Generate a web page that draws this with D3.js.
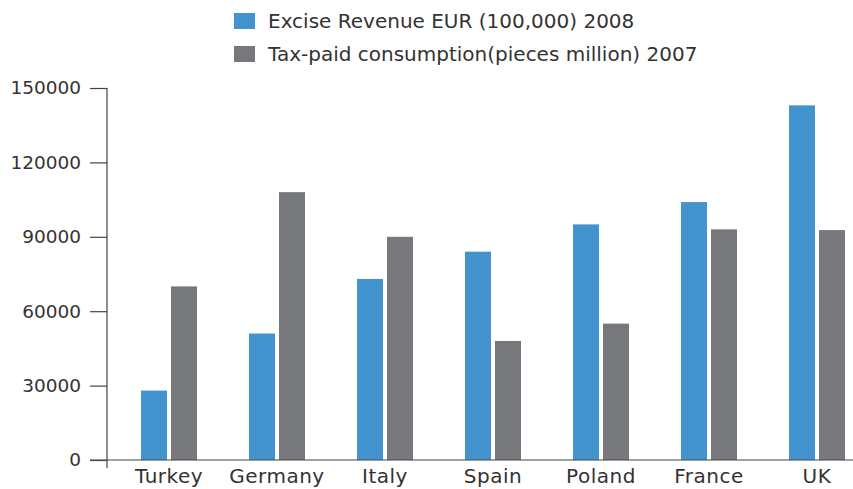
<!DOCTYPE html>
<html><head><meta charset="utf-8">
<script src="https://cdn.jsdelivr.net/npm/d3@7"></script>
<style>body{margin:0;background:#fff}</style>
</head><body><svg id="c" width="853" height="489"></svg>
<script>
const categories = ["Turkey","Germany","Italy","Spain","Poland","France","UK"];
const excise = [28000,51000,73000,84000,95000,104000,143000];
const consumption = [70000,108000,90000,48000,55000,93000,92700];
const yTicks = [0,30000,60000,90000,120000,150000];
const seriesNames = ["Excise Revenue EUR (100,000) 2008","Tax-paid consumption(pieces million) 2007"];
const colors = ["#4393cf","#77787b"];

const svg = d3.select("#c");
const font = "'DejaVu Sans', sans-serif";
const x0 = 107, yBase = 460, yTop = 88;
const x = d3.scaleBand().domain(categories).range([x0+8, x0+8+108*7]).paddingInner(0).paddingOuter(0);
const y = d3.scaleLinear().domain([0,150000]).range([yBase, yTop]);
const bw = 26, gap = 4;

const g = svg.append("g");
categories.forEach((c,i)=>{
  const cx = x(c) + x.bandwidth()/2;
  g.append("rect").attr("x", cx - gap/2 - bw).attr("y", y(excise[i])).attr("width", bw).attr("height", yBase - y(excise[i])).attr("fill", colors[0]);
  g.append("rect").attr("x", cx + gap/2).attr("y", y(consumption[i])).attr("width", bw).attr("height", yBase - y(consumption[i])).attr("fill", colors[1]);
  g.append("text").attr("x", cx).attr("y", 483).attr("text-anchor","middle").attr("font-family",font).attr("font-size",20).attr("letter-spacing",0.5).attr("fill","#333").text(c);
});

// y axis
const yAxis = d3.axisLeft(y).tickValues(yTicks).tickSize(17).tickPadding(9).tickFormat(d3.format("d"));
const ya = svg.append("g").attr("transform",`translate(${x0},0)`).call(yAxis);
ya.select(".domain").remove();
ya.selectAll(".tick line").attr("stroke","#444").attr("stroke-width",1.2);
ya.selectAll(".tick text").attr("font-family",font).attr("font-size",18.5).attr("fill","#333");
svg.append("line").attr("x1",x0).attr("x2",x0).attr("y1",yTop).attr("y2",yBase+8).attr("stroke","#444").attr("stroke-width",1.2);
svg.append("line").attr("x1",x0-17).attr("x2",853).attr("y1",yBase).attr("y2",yBase).attr("stroke","#444").attr("stroke-width",1.2);

// legend
seriesNames.forEach((s,i)=>{
  const ly = 13 + i*33;
  svg.append("rect").attr("x",234).attr("y",ly).attr("width",21).attr("height",16).attr("fill",colors[i]);
  svg.append("text").attr("x",268).attr("y",ly+15).attr("font-family",font).attr("font-size",20).attr("fill","#333").text(s);
});
</script></body></html>
